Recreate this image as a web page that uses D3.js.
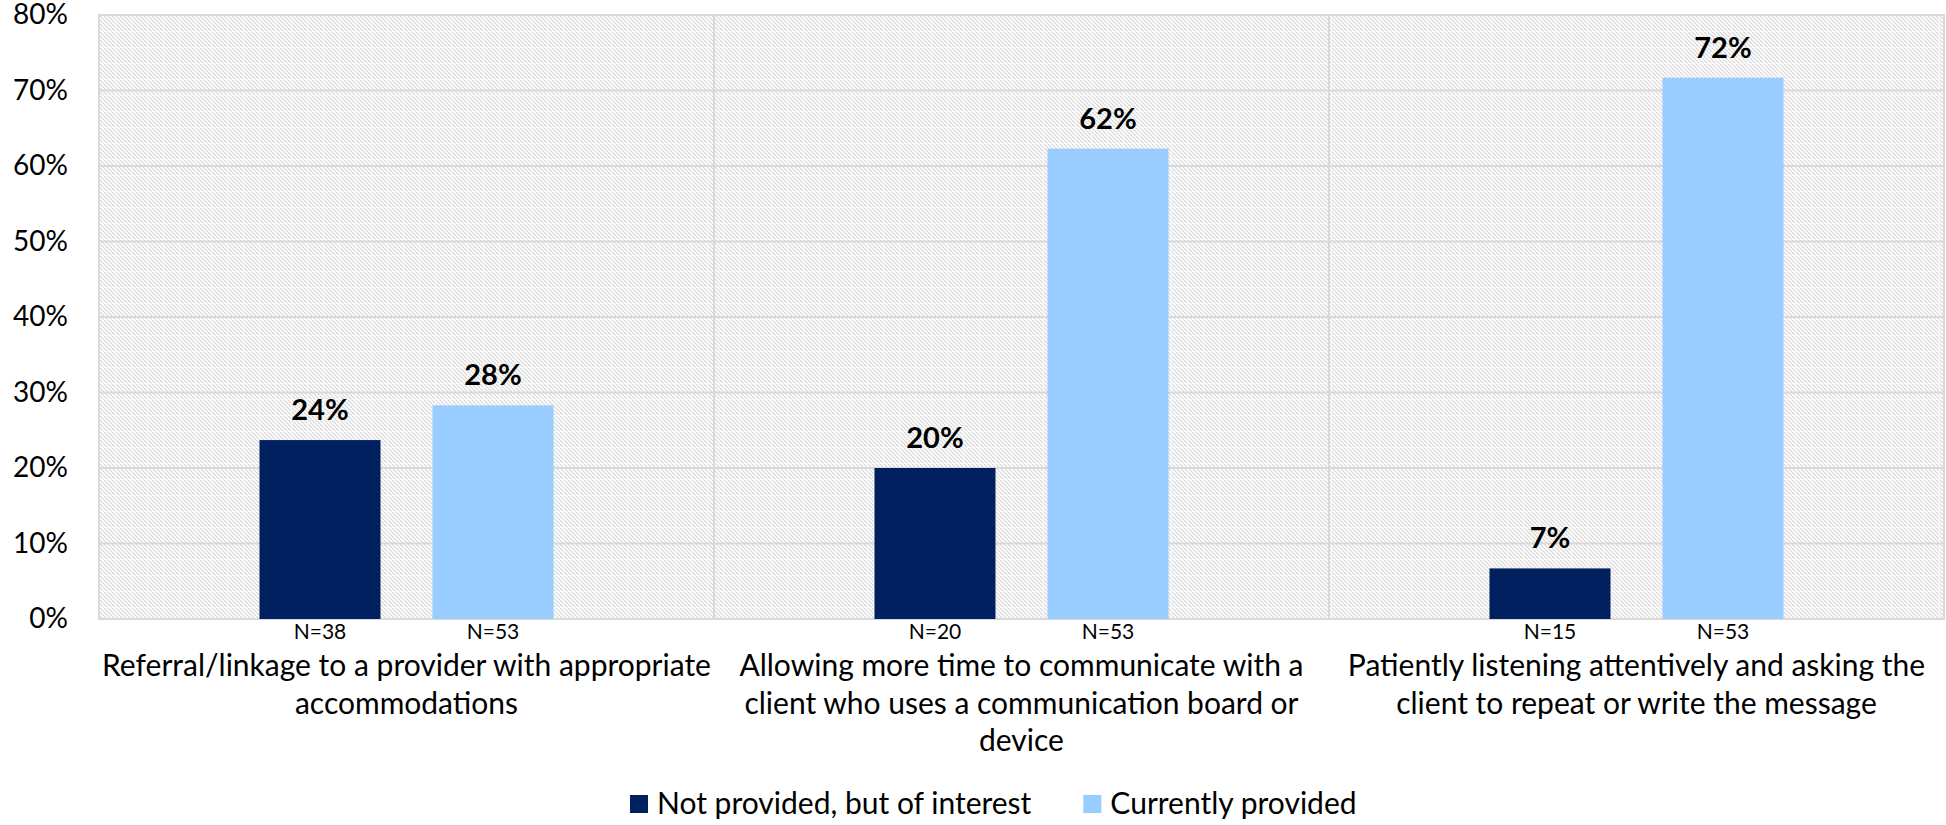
<!DOCTYPE html>
<html><head><meta charset="utf-8">
<script src="https://cdn.jsdelivr.net/npm/d3@7"></script>
<style>
body{margin:0;background:#fff}
svg{display:block}
text{font-family:Lato,'Liberation Sans',sans-serif;fill:#000}
</style>
</head><body>
<svg id="chart" width="1946" height="825"></svg>
<script>
// ---- data ----
const categories = ["Referral", "Allowing", "Patiently"];
const categoryLines = [
  ["Referral/linkage to a provider with appropriate", "accommodations"],
  ["Allowing more time to communicate with a", "client who uses a communication board or", "device"],
  ["Patiently listening attentively and asking the", "client to repeat or write the message"]
];
const seriesNames = ["Not provided, but of interest", "Currently provided"];
const notProvided = [23.7, 20.0, 6.7];
const currentlyProvided = [28.3, 62.3, 71.7];
const nNotProvided = [38, 20, 15];
const nCurrentlyProvided = [53, 53, 53];
const yTicks = [0, 10, 20, 30, 40, 50, 60, 70, 80];
const seriesColors = ["#002060", "#99CCFF"];

// ---- layout ----
const plot = {left: 99, right: 1944, top: 15, bottom: 619};
const svg = d3.select("#chart");

const x0 = d3.scaleBand().domain(categories).range([plot.left, plot.right]).paddingInner(0).paddingOuter(0);
const x1 = d3.scaleBand().domain(seriesNames).range([0, x0.bandwidth()]).paddingInner(0.3006).paddingOuter(0.9277);
const y = d3.scaleLinear().domain([0, 80]).range([plot.bottom, plot.top]);

// hatch pattern
const defs = svg.append("defs");
const pat = defs.append("pattern").attr("id", "hatch").attr("patternUnits", "userSpaceOnUse")
  .attr("width", 4).attr("height", 4);
pat.append("rect").attr("width", 4).attr("height", 4).attr("fill", "#ffffff");
pat.append("path").attr("d", "M-1,-1 L5,5 M3,-1 L5,1 M-1,3 L1,5")
  .attr("stroke", "#d4d4d4").attr("stroke-width", 1.05);
const pat2 = defs.append("pattern").attr("id", "checker").attr("patternUnits", "userSpaceOnUse")
  .attr("x", plot.left).attr("y", plot.top).attr("width", 16).attr("height", 16);
pat2.append("path").attr("d", "M0,0 V16 M0,0 H16")
  .attr("stroke", "#ffffff").attr("stroke-width", 2).attr("stroke-opacity", 0.5);

svg.append("rect").attr("x", plot.left).attr("y", plot.top)
  .attr("width", plot.right - plot.left).attr("height", plot.bottom - plot.top)
  .attr("fill", "url(#hatch)");
svg.append("rect").attr("x", plot.left).attr("y", plot.top)
  .attr("width", plot.right - plot.left).attr("height", plot.bottom - plot.top)
  .attr("fill", "url(#checker)");

// gridlines
const gridColor = "#d9d9d9";
svg.append("g").selectAll("line").data(yTicks).join("line")
  .attr("x1", plot.left).attr("x2", plot.right)
  .attr("y1", d => y(d)).attr("y2", d => y(d))
  .attr("stroke", gridColor).attr("stroke-width", 2);

// category dividers
svg.append("g").selectAll("line").data(categories).join("line")
  .attr("x1", d => x0(d)).attr("x2", d => x0(d))
  .attr("y1", plot.top).attr("y2", plot.bottom)
  .attr("stroke", gridColor).attr("stroke-width", 2);

// border
svg.append("rect").attr("x", plot.left).attr("y", plot.top)
  .attr("width", plot.right - plot.left).attr("height", plot.bottom - plot.top)
  .attr("fill", "none").attr("stroke", gridColor).attr("stroke-width", 2);

// y axis
const yAxis = d3.axisLeft(y).tickValues(yTicks).tickSize(0).tickPadding(31).tickFormat(d => d + "%");
const ga = svg.append("g").attr("transform", `translate(${plot.left},0)`).call(yAxis);
ga.select(".domain").remove();
ga.selectAll("text").attr("font-size", 28).attr("font-family", "Lato").attr("fill", "#000");

// bars
const rows = categories.map((c, i) => ({
  cat: c,
  vals: [
    {s: seriesNames[0], v: notProvided[i], n: nNotProvided[i], color: seriesColors[0]},
    {s: seriesNames[1], v: currentlyProvided[i], n: nCurrentlyProvided[i], color: seriesColors[1]}
  ]
}));
const groups = svg.append("g").selectAll("g").data(rows).join("g")
  .attr("transform", d => `translate(${x0(d.cat)},0)`);
groups.selectAll("rect").data(d => d.vals).join("rect")
  .attr("x", d => x1(d.s)).attr("width", x1.bandwidth())
  .attr("y", d => y(d.v)).attr("height", d => y(0) - y(d.v))
  .attr("fill", d => d.color);
groups.selectAll("text.val").data(d => d.vals).join("text").attr("class", "val")
  .attr("x", d => x1(d.s) + x1.bandwidth() / 2).attr("y", d => y(d.v) - 20)
  .attr("text-anchor", "middle").attr("font-size", 29).attr("font-weight", "bold")
  .text(d => Math.round(d.v) + "%");
groups.selectAll("text.n").data(d => d.vals).join("text").attr("class", "n")
  .attr("x", d => x1(d.s) + x1.bandwidth() / 2).attr("y", plot.bottom + 20)
  .attr("text-anchor", "middle").attr("font-size", 21)
  .text(d => "N=" + d.n);

// category labels
const cl = svg.append("g").selectAll("text").data(categories).join("text")
  .attr("x", d => x0(d) + x0.bandwidth() / 2).attr("y", plot.bottom + 57)
  .attr("text-anchor", "middle").attr("font-size", 30);
cl.selectAll("tspan").data((d, i) => categoryLines[i]).join("tspan")
  .attr("x", function() { return this.parentNode.getAttribute("x"); })
  .attr("dy", (d, i) => i === 0 ? 0 : 37.5)
  .text(d => d);

// legend
const legend = svg.append("g").attr("transform", "translate(630,804)");
let lx = 0;
seriesNames.forEach((name, i) => {
  const g = legend.append("g").attr("transform", `translate(${lx},0)`);
  g.append("rect").attr("x", 0).attr("y", -9).attr("width", 18).attr("height", 18).attr("fill", seriesColors[i]);
  const t = g.append("text").attr("x", 27).attr("y", 10).attr("font-size", 30).text(name);
  lx += 27 + t.node().getComputedTextLength() + 52;
});
</script>
</body></html>
